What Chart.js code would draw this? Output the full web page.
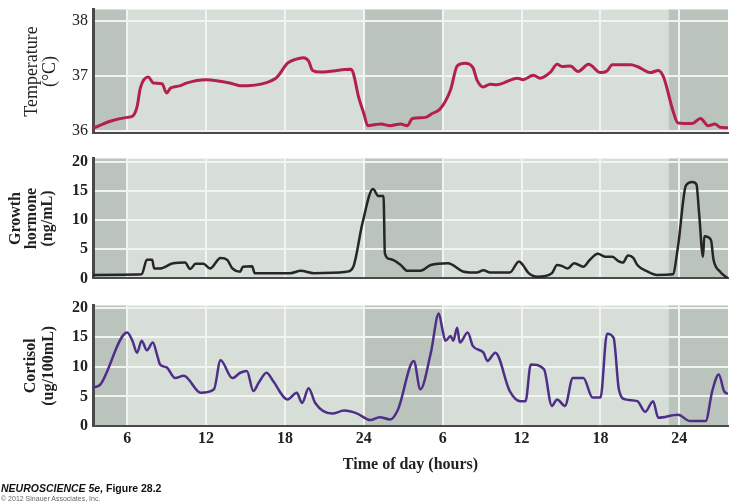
<!DOCTYPE html>
<html>
<head>
<meta charset="utf-8">
<script src="https://cdn.jsdelivr.net/npm/chart.js@4.4.1/dist/chart.umd.min.js"></script>
<style>
  body { margin: 0; background: #fff; width: 745px; height: 503px; overflow: hidden; position: relative; }
  .panel { position: absolute; left: 0; width: 745px; }
  #p1 { top: -5px; height: 153px; }
  #p2 { top: 144px; height: 149px; }
  #p3 { top: 291px; height: 187px; }
  .foot { position: absolute; left: 1px; font-family: 'Liberation Sans Narrow', 'Liberation Sans', Arial, sans-serif; color: #111; }
  #f1 { top: 482px; font-size: 10.5px; font-weight: bold; }
  #f2 { top: 495px; font-size: 7px; color: #666; }
</style>
</head>
<body>
<div class="panel" id="p1"><canvas id="tempChart"></canvas></div>
<div class="panel" id="p2"><canvas id="ghChart"></canvas></div>
<div class="panel" id="p3"><canvas id="cortChart"></canvas></div>
<div class="foot" id="f1"><i>NEUROSCIENCE 5e,</i> Figure 28.2</div>
<div class="foot" id="f2">© 2012 Sinauer Associates, Inc.</div>
<script>
// time axis (hours since midnight of day 1)
var hourTicks = [6, 12, 18, 24, 30, 36, 42, 48];
var nightStart = [3.4, 24, 47.2];
var nightEnd = [6, 30, 51.7];

// Temperature (°C)
var tempHours = [3.4, 4.7, 6, 6.4, 6.75, 7, 7.6, 8, 8.65, 9, 9.3, 10, 10.5, 12, 14, 14.6, 16.6, 17.4, 18.2, 18.8,
  19.4, 19.8, 20.1, 20.7, 23, 23.2, 23.6, 24, 24.3, 24.9, 25.3, 26, 26.8, 27.3, 27.7, 28.7, 29.2, 29.8, 30.6, 31.1,
  31.7, 32.3, 32.6, 33.1, 33.6, 34.1, 35.7, 36.1, 36.9, 37.4, 38.2, 38.7, 39.1, 39.7, 40.3, 41.1, 42, 42.5, 42.9, 44.3,
  44.8, 45.8, 46.4, 46.8, 47.5, 47.9, 49, 49.6, 50.2, 50.7, 51.1, 51.7];
var tempValues = [36.05, 36.18, 36.25, 36.27, 36.44, 36.78, 36.98, 36.87, 36.86, 36.69, 36.78, 36.82, 36.87, 36.93, 36.86, 36.82, 36.88, 36.98, 37.23, 37.3,
  37.33, 37.27, 37.1, 37.07, 37.12, 37.05, 36.62, 36.32, 36.1, 36.12, 36.13, 36.1, 36.13, 36.1, 36.23, 36.25, 36.32, 36.4, 36.75, 37.18,
  37.23, 37.15, 36.93, 36.8, 36.85, 36.84, 36.96, 36.93, 37.01, 36.96, 37.07, 37.21, 37.17, 37.18, 37.08, 37.21, 37.06, 37.09, 37.2, 37.2,
  37.17, 37.06, 37.1, 36.98, 36.38, 36.15, 36.14, 36.23, 36.1, 36.13, 36.07, 36.06];
var tempTicks = [36, 37, 38];

// Growth hormone (ng/mL)
var ghHours = [3.4, 7.1, 7.5, 7.9, 8.05, 8.5, 9.5, 10.4, 10.8, 11.2, 11.8, 12.3, 13.1, 13.6, 14, 14.6, 14.8, 15.5, 15.7, 18.4,
  19.2, 20.2, 22.7, 23.2, 23.9, 24.7, 25.1, 25.5, 25.6, 26, 26.8, 27.3, 28.3, 29.1, 30.4, 31.6, 32.6, 33.1, 33.6, 35.1,
  35.8, 36.1, 36.5, 37.2, 38.3, 38.7, 39.1, 39.5, 40, 40.7, 41.2, 41.8, 42.4, 42.9, 43.4, 43.7, 44.1, 44.5, 44.8, 45.6,
  46.3, 47.5, 47.9, 48.5, 49, 49.3, 49.5, 49.8, 49.9, 50.4, 50.6, 51.1, 51.7];
var ghValues = [0.6, 0.7, 3.2, 3.2, 1.7, 1.7, 2.6, 2.7, 1.6, 2.5, 2.5, 1.7, 3.5, 3.2, 1.7, 1.15, 2.0, 2.1, 0.9, 0.9,
  1.3, 0.9, 1.15, 2.0, 9.5, 15.3, 14.1, 14.1, 4.3, 3.3, 2.3, 1.3, 1.3, 2.3, 2.6, 1.15, 1.0, 1.4, 1.0, 1.0,
  2.9, 2.3, 1.0, 0.3, 0.9, 2.3, 2.1, 1.7, 2.6, 2.0, 3.2, 4.2, 3.7, 3.7, 2.9, 2.7, 3.9, 3.5, 2.3, 1.15,
  0.6, 0.7, 5.5, 15.9, 16.5, 16.1, 11.2, 3.7, 7.2, 6.6, 3.2, 1.15, 0];
var ghTicks = [0, 5, 10, 15, 20];

// Cortisol (ug/100mL)
var cortHours = [3.4, 3.95, 6, 6.4, 6.75, 7.1, 7.5, 7.95, 8.3, 8.5, 9, 9.65, 10.3, 11.6, 12.6, 13.1, 14, 14.6, 15.1, 15.6,
  16, 16.6, 17.1, 18.2, 18.9, 19.3, 19.8, 20.3, 21.6, 22.5, 23.5, 24.5, 25.2, 26, 26.6, 27.8, 28.3, 29.1, 29.7, 30,
  30.2, 30.6, 30.8, 31.1, 31.3, 31.9, 32.3, 33.1, 33.4, 34, 35.1, 35.9, 36.3, 36.7, 37.7, 38.3, 38.7, 39.3, 39.9, 40.7,
  41.4, 42, 42.5, 43, 43.4, 43.9, 44.8, 45.4, 46, 46.4, 47.9, 48.8, 50, 50.5, 51, 51.4, 51.7];
var cortValues = [6.5, 7.0, 15.8, 14.4, 12.4, 14.4, 12.8, 14.1, 11.8, 10.4, 9.9, 8.1, 8.5, 5.6, 6.2, 11.1, 8.1, 9.0, 9.3, 5.9,
  7.3, 9.0, 7.6, 4.5, 5.6, 3.9, 6.4, 3.9, 2.1, 2.6, 2.1, 1.0, 1.5, 1.1, 2.8, 11.0, 6.2, 12.4, 19.0, 16.1,
  14.4, 15.2, 14.4, 16.6, 14.1, 15.8, 13.5, 12.4, 11.0, 12.4, 5.9, 4.2, 4.2, 10.4, 9.6, 3.4, 4.5, 3.4, 8.1, 8.1,
  4.8, 4.8, 15.6, 14.9, 6.2, 4.5, 4.2, 2.4, 4.2, 1.4, 1.9, 0.85, 0.85, 5.9, 8.7, 5.9, 5.4];
var cortTicks = [0, 5, 10, 15, 20];

var serif = "'Liberation Serif', 'Times New Roman', serif";

// light panel + darker night bands behind the grid
var nightShade = {
  id: 'nightShade',
  beforeDraw: function (chart) {
    var ctx = chart.ctx, a = chart.chartArea, x = chart.scales.x;
    ctx.save();
    ctx.fillStyle = '#d6ded7';
    ctx.fillRect(a.left, a.top, a.right - a.left, a.bottom - a.top);
    ctx.fillStyle = '#bac4bc';
    for (var i = 0; i < nightStart.length; i++) {
      var x0 = x.getPixelForValue(nightStart[i]);
      var x1 = x.getPixelForValue(nightEnd[i]);
      ctx.fillRect(x0, a.top, x1 - x0, a.bottom - a.top);
    }
    ctx.restore();
  }
};

function makePanel(id, hours, values, color, width, yMin, yMax, yTicks, title, titleFont, titlePad, tickWeight, bottom) {
  var pts = hours.map(function (h, i) { return {x: h, y: values[i]}; });
  new Chart(document.getElementById(id), {
    type: 'line',
    data: {
      datasets: [{
        data: pts,
        borderColor: color,
        borderWidth: width,
        pointRadius: 0,
        cubicInterpolationMode: 'monotone',
        fill: false
      }]
    },
    options: {
      responsive: true,
      maintainAspectRatio: false,
      animation: false,
      layout: {padding: {top: 8, right: 17, left: 0, bottom: 0}},
      plugins: {legend: {display: false}, tooltip: {enabled: false}},
      scales: {
        x: {
          type: 'linear',
          min: 3.4,
          max: 51.7,
          afterBuildTicks: function (s) { s.ticks = hourTicks.map(function (v) { return {value: v}; }); },
          afterFit: function (s) { s.height = bottom ? 52 : 8; },
          grid: {color: '#f1f4f1', lineWidth: 2, drawTicks: false},
          border: {display: true, color: '#4a4a4a', width: 2},
          ticks: {
            display: bottom,
            padding: 3,
            color: '#222',
            font: {family: serif, size: 16, weight: 'bold'},
            callback: function (v) { return v % 24 === 0 ? 24 : v % 24; }
          },
          title: {
            display: bottom,
            text: 'Time of day (hours)',
            color: '#222',
            font: {family: serif, size: 16, weight: 'bold'},
            padding: {top: 2, bottom: 4}
          }
        },
        y: {
          min: yMin,
          max: yMax,
          afterBuildTicks: function (s) { s.ticks = yTicks.map(function (v) { return {value: v}; }); },
          afterFit: function (s) { s.width = 93; },
          grid: {color: '#f1f4f1', lineWidth: 2, drawTicks: false},
          border: {display: true, color: '#4a4a4a', width: 3},
          ticks: {
            padding: 5,
            color: '#222',
            font: {family: serif, size: 16, weight: tickWeight}
          },
          title: {
            display: true,
            text: title,
            color: '#222',
            font: titleFont,
            padding: {top: titlePad, bottom: 0}
          }
        }
      }
    },
    plugins: [nightShade]
  });
}

makePanel('tempChart', tempHours, tempValues, '#b3204c', 3, 35.96, 38.2, tempTicks,
  ['Temperature', '(°C)'], {family: serif, size: 18, weight: 'normal', lineHeight: 1}, 23, 'normal', false);
makePanel('ghChart', ghHours, ghValues, '#262626', 2.5, 0, 20.5, ghTicks,
  ['Growth', 'hormone', '(ng/mL)'], {family: serif, size: 16, weight: 'bold', lineHeight: 1}, 8, 'bold', false);
makePanel('cortChart', cortHours, cortValues, '#4e2f88', 2.5, 0, 20.35, cortTicks,
  ['Cortisol', '(ug/100mL)'], {family: serif, size: 16, weight: 'bold', lineHeight: 1.125}, 22, 'bold', true);
</script>
</body>
</html>
